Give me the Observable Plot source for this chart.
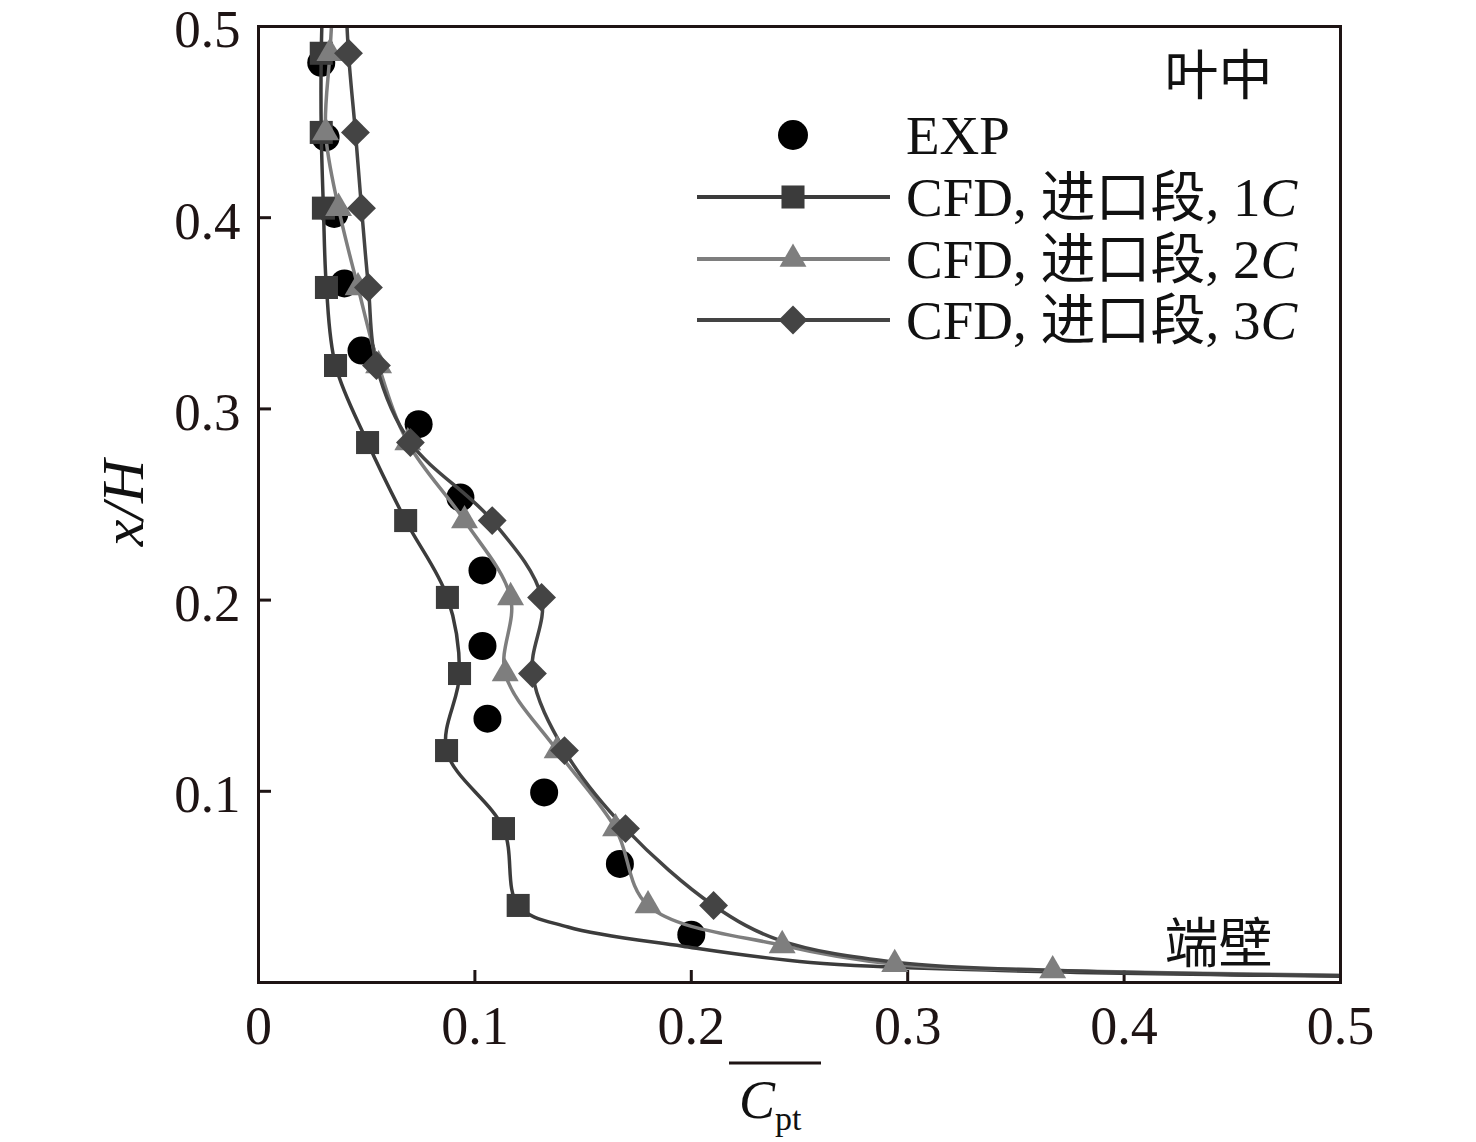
<!DOCTYPE html>
<html>
<head>
<meta charset="utf-8">
<script src="https://cdn.jsdelivr.net/npm/d3@7"></script>
<script src="https://cdn.jsdelivr.net/npm/@observablehq/plot@0.6"></script>
<style>
  html, body { margin: 0; padding: 0; background: #fff; }
  #chart { width: 1476px; height: 1142px; }
</style>
</head>
<body>
<div id="chart"></div>
<script>
// ---- data ----
const xTicks = [0, 0.1, 0.2, 0.3, 0.4, 0.5];
const yTicks = [0.1, 0.2, 0.3, 0.4, 0.5];

// EXP
const expY = [0.025, 0.062, 0.0994, 0.138, 0.176, 0.2155, 0.2537, 0.292, 0.3305, 0.3656, 0.402, 0.442, 0.481];
const expX = [0.200, 0.167, 0.132, 0.1058, 0.1035, 0.1035, 0.0933, 0.074, 0.0476, 0.0397, 0.035, 0.031, 0.029];

// CFD, 进口段, 1C (marked points)
const c1Y = [0.0403, 0.0805, 0.1213, 0.1616, 0.2014, 0.2416, 0.2824, 0.3227, 0.3635, 0.405, 0.4446, 0.486];
const c1X = [0.120, 0.1132, 0.0869, 0.0929, 0.0873, 0.068, 0.0504, 0.0356, 0.0314, 0.030, 0.029, 0.029];
// unmarked line points (near wall and above top)
const c1uY = [0.0033, 0.0063, 0.0105, 0.019, 0.029, 0.525];
const c1uX = [0.5, 0.343, 0.255, 0.196, 0.143, 0.030];

// CFD, 进口段, 2C
const c2Y = [0.0063, 0.0095, 0.0194, 0.0403, 0.0805, 0.1213, 0.1616, 0.2014, 0.2416, 0.2824, 0.3227, 0.3635, 0.405, 0.4446, 0.486];
const c2X = [0.367, 0.294, 0.242, 0.180, 0.165, 0.138, 0.114, 0.1165, 0.0952, 0.069, 0.0555, 0.046, 0.037, 0.031, 0.033];
const c2uY = [0.0038, 0.525];
const c2uX = [0.5, 0.035];

// CFD, 进口段, 3C
const c3Y = [0.0403, 0.0805, 0.1213, 0.1616, 0.2014, 0.2416, 0.2824, 0.3227, 0.3635, 0.405, 0.4446, 0.486];
const c3X = [0.2103, 0.1696, 0.1414, 0.1266, 0.1308, 0.108, 0.0702, 0.0545, 0.0508, 0.0476, 0.0448, 0.0416];
const c3uY = [0.0035, 0.0063, 0.0105, 0.022, 0.525];
const c3uX = [0.5, 0.37, 0.295, 0.241, 0.040];

const legendLabels = ["EXP", "CFD, 进口段, 1", "CFD, 进口段, 2", "CFD, 进口段, 3"];

// ---- build tables ----
const zipPts = (xs, ys) => xs.map((x, i) => ({x, y: ys[i]}));
const lineOf = (xs, ys, uxs, uys) =>
  zipPts(xs, ys).concat(zipPts(uxs, uys)).sort((a, b) => a.y - b.y);

const exp = zipPts(expX, expY);
const s1 = zipPts(c1X, c1Y), s2 = zipPts(c2X, c2Y), s3 = zipPts(c3X, c3Y);
const l1 = lineOf(c1X, c1Y, c1uX, c1uY);
const l2 = lineOf(c2X, c2Y, c2uX, c2uY);
const l3 = lineOf(c3X, c3Y, c3uX, c3uY);

const col1 = "#3b3b3b", col2 = "#7e7e7e", col3 = "#444444";
const fmt = d => d === 0 ? "0" : d.toFixed(1);
const FONT = "'Liberation Serif', 'Times New Roman', 'Noto Sans CJK SC', serif";

const chart = Plot.plot({
  width: 1476,
  height: 1142,
  marginLeft: 258,
  marginRight: 136,
  marginTop: 26,
  marginBottom: 160,
  style: {fontFamily: FONT, fontSize: "54px", background: "#fff", color: "#1e1414"},
  x: {domain: [0, 0.5]},
  y: {domain: [0, 0.5]},
  marks: [
    Plot.axisX({ticks: xTicks, tickFormat: fmt, tickSize: -12, tickPadding: 35, strokeWidth: 3, label: null}),
    // inward tick marks (no labels)
    Plot.axisY({ticks: yTicks, tickFormat: () => "", tickSize: -13, strokeWidth: 3, label: null}),
    // tick labels, nudged slightly down
    Plot.axisY({ticks: yTicks, tickFormat: fmt, tickSize: 0, tickPadding: 18, strokeWidth: 0, label: null, dy: 4, fontSize: 53}),
    Plot.dot(exp, {x: "x", y: "y", r: 14, fill: "#000", stroke: "none"}),
    Plot.line(l1, {x: "x", y: "y", stroke: col1, strokeWidth: 3.5, curve: "catmull-rom", clip: true}),
    Plot.line(l2, {x: "x", y: "y", stroke: col2, strokeWidth: 3.5, curve: "catmull-rom", clip: true}),
    Plot.line(l3, {x: "x", y: "y", stroke: col3, strokeWidth: 3.5, curve: "catmull-rom", clip: true}),
    Plot.dot(s1, {x: "x", y: "y", symbol: "square", r: 13, fill: col1, stroke: "none"}),
    Plot.dot(s2, {x: "x", y: "y", symbol: "triangle", r: 10, fill: col2, stroke: "none"}),
    Plot.dot(s3, {x: "x", y: "y", symbol: "diamond2", r: 13, fill: col3, stroke: "none"}),
    Plot.text(["叶中"], {frameAnchor: "top-right", dx: -68, dy: 51, text: d => d, textAnchor: "end", lineAnchor: "middle", fontSize: 54, fill: "#111"}),
    Plot.text(["端壁"], {frameAnchor: "bottom-right", dx: -68, dy: -37, text: d => d, textAnchor: "end", lineAnchor: "middle", fontSize: 54, fill: "#111"}),
    Plot.frame({stroke: "#1e1414", strokeWidth: 3})
  ]
});

document.getElementById("chart").appendChild(chart);

// ---- legend and axis titles ----
const svg = d3.select(chart);
const lg = svg.append("g").attr("font-family", FONT).attr("font-size", 55)
  .attr("fill", "#111").attr("text-anchor", "start");
const rows = [135, 197, 259, 320];
const sym = [d3.symbolCircle, d3.symbolSquare, d3.symbolTriangle, d3.symbolDiamond2];
const symR = [15, 13, 10, 13];
const symCol = ["#000", col1, col2, col3];
rows.forEach((yy, i) => {
  if (i > 0) {
    lg.append("line").attr("x1", 697).attr("x2", 890).attr("y1", yy).attr("y2", yy)
      .attr("stroke", symCol[i]).attr("stroke-width", 4);
  }
  lg.append("path").attr("transform", `translate(793,${yy})`)
    .attr("d", d3.symbol(sym[i], Math.PI * symR[i] * symR[i])())
    .attr("fill", symCol[i]);
  const t = lg.append("text").attr("x", 906).attr("y", yy).attr("dy", "0.34em");
  t.append("tspan").text(legendLabels[i]);
  if (i > 0) t.append("tspan").attr("font-style", "italic").text("C");
});

// y title
svg.append("text")
  .attr("transform", "translate(143,503) rotate(-90)")
  .attr("text-anchor", "middle")
  .attr("font-family", FONT).attr("font-size", 60).attr("font-style", "italic").attr("fill", "#111")
  .text("x/H");

// x title: C̄pt
const xt = svg.append("g").attr("font-family", FONT).attr("fill", "#111").attr("text-anchor", "start");
xt.append("line").attr("x1", 729).attr("x2", 821).attr("y1", 1063).attr("y2", 1063)
  .attr("stroke", "#1e1414").attr("stroke-width", 3);
const ct = xt.append("text").attr("x", 739).attr("y", 1118).attr("font-size", 54);
ct.append("tspan").attr("font-style", "italic").text("C");
ct.append("tspan").attr("font-size", 34).attr("dy", 12).text("pt");
</script>
</body>
</html>
